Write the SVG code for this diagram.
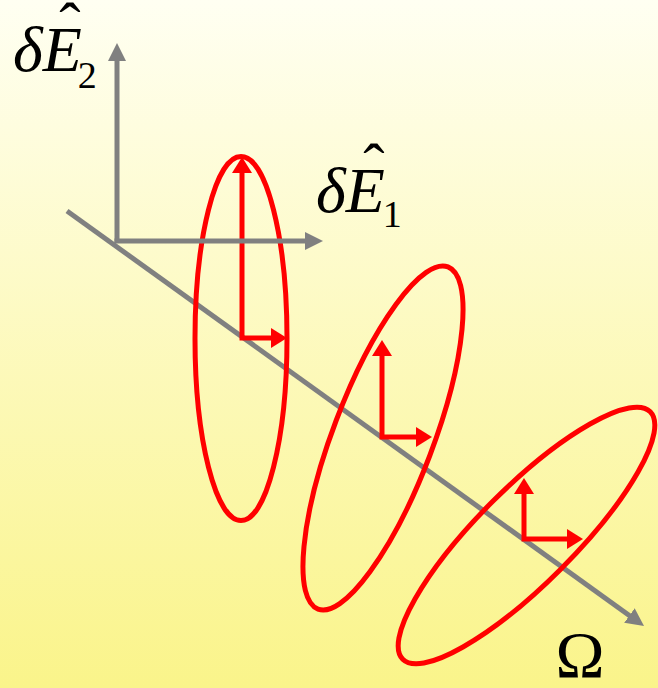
<svg xmlns="http://www.w3.org/2000/svg" width="658" height="688" viewBox="0 0 658 688">
  <defs>
    <linearGradient id="bg" x1="0" y1="0" x2="0" y2="1">
      <stop offset="0" stop-color="#FFFFF2"/>
      <stop offset="1" stop-color="#FAF48A"/>
    </linearGradient>
    <marker id="gh" viewBox="0 0 18 18" refX="8" refY="9" markerWidth="18" markerHeight="18" markerUnits="userSpaceOnUse" orient="auto">
      <path d="M0,0 L18,9 L0,18 z" fill="#808080"/>
    </marker>
    <marker id="rh" viewBox="0 0 16 20" refX="6" refY="10" markerWidth="16" markerHeight="20" markerUnits="userSpaceOnUse" orient="auto-start-reverse">
      <path d="M0,0 L16,10 L0,20 z" fill="#FF0000"/>
    </marker>
    <style>
      .ax { stroke: #808080; stroke-width: 5; fill: none; marker-end: url(#gh); }
      .ell { stroke: #FF0000; stroke-width: 5; fill: none; }
      .vec { stroke: #FF0000; stroke-width: 5; fill: none; stroke-linejoin: miter; marker-start: url(#rh); marker-end: url(#rh); }
      .lbl { font-family: "Liberation Serif", "Times New Roman", serif; fill: #000; }
    </style>
  </defs>
  <rect width="658" height="688" fill="url(#bg)"/>

  <g id="connectors">
    <line id="omega-axis" class="ax" x1="67" y1="211" x2="635.9" y2="620.2"/>
  </g>

  <g id="ellipse1">
    <ellipse class="ell" cx="241" cy="338.5" rx="46" ry="182"/>
    <path class="vec" d="M242,167 V338 H277"/>
  </g>
  <g id="ellipse2">
    <ellipse class="ell" cx="0" cy="0" rx="50" ry="183" transform="translate(383,438) rotate(20.8)"/>
    <path class="vec" d="M382,350 V437 H422"/>
  </g>
  <g id="ellipse3">
    <ellipse class="ell" cx="0" cy="0" rx="48" ry="175" transform="translate(526.5,535.5) rotate(45)"/>
    <path class="vec" d="M524,488 V539 H573"/>
  </g>

  <g id="axes">
    <line id="e2-axis" class="ax" x1="117" y1="243" x2="117" y2="53"/>
    <line id="e1-axis" class="ax" x1="114.5" y1="241" x2="313" y2="241"/>
  </g>

  <g id="label-e2">
    <text class="lbl" x="13" y="71" font-size="64"><tspan font-style="italic">δE</tspan><tspan font-size="38" dx="-4" dy="17">2</tspan></text>
    <text class="lbl" x="70" y="47" font-size="64" text-anchor="middle">ˆ</text>
  </g>
  <g id="label-e1">
    <text class="lbl" x="316" y="212" font-size="64"><tspan font-style="italic">δE</tspan><tspan font-size="38" dx="-2" dy="15">1</tspan></text>
    <text class="lbl" x="374" y="188" font-size="64" text-anchor="middle">ˆ</text>
  </g>
  <g id="label-omega">
    <text class="lbl" x="580" y="677" font-size="66" text-anchor="middle">Ω</text>
  </g>
</svg>
